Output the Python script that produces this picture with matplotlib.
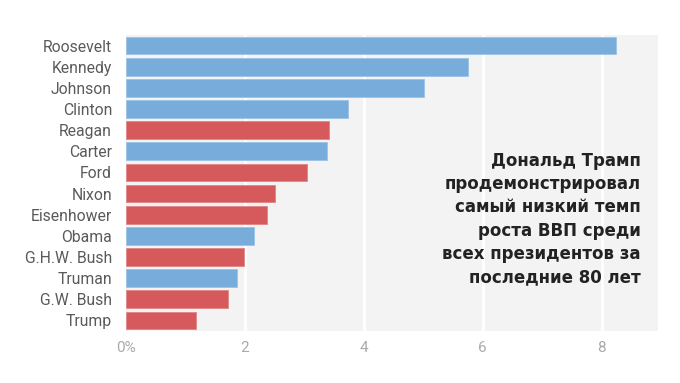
import matplotlib
matplotlib.use("Agg")
import matplotlib.pyplot as plt

presidents = ["Roosevelt", "Kennedy", "Johnson", "Clinton", "Reagan", "Carter", "Ford",
              "Nixon", "Eisenhower", "Obama", "G.H.W. Bush", "Truman", "G.W. Bush", "Trump"]
gdp_growth = [8.25, 5.76, 5.01, 3.74, 3.42, 3.38, 3.05, 2.51, 2.37, 2.16, 1.99, 1.86, 1.72, 1.17]
party = ["D", "D", "D", "D", "R", "D", "R", "R", "R", "D", "R", "D", "R", "R"]
x_ticks = [0, 2, 4, 6, 8]
x_tick_labels = ["0%", "2", "4", "6", "8"]
note = ("Дональд Трамп\nпродемонстрировал\nсамый низкий темп\n"
        "роста ВВП среди\nвсех президентов за\nпоследние 80 лет")

colors = {"D": "#77acdb", "R": "#d65a5b"}
edge = {"D": "#9cc3e6", "R": "#e08586"}

fig = plt.figure(figsize=(6.8, 3.83), dpi=100)
ax = fig.add_axes([126/680, 1 - 331/383, (658 - 126)/680, (331 - 35)/383])
ax.set_facecolor("#f3f3f3")

ypos = list(range(len(presidents)))
ax.barh(ypos, gdp_growth, height=0.84,
        color=[colors[p] for p in party],
        edgecolor=[edge[p] for p in party], linewidth=0.6, zorder=3)

for t in x_ticks[1:]:
    ax.axvline(t, color="white", linewidth=2, zorder=1)

ax.set_xlim(0, 8.95)
ax.set_ylim(len(presidents) - 0.5, -0.5)
ax.set_yticks(ypos)
ax.set_yticklabels(presidents, fontsize=11.3, color="#5a5a5a", family="Roboto")
ax.set_xticks(x_ticks)
ax.set_xticklabels(x_tick_labels, fontsize=11, color="#aaaaaa", family="Roboto")
ax.tick_params(axis="y", length=0, pad=10)
ax.tick_params(axis="x", length=0, pad=7)
for s in ax.spines.values():
    s.set_visible(False)

fig.text(641/680, 1 - 219/383, note, ha="right", va="center", multialignment="right",
         fontsize=12, fontweight="bold", color="#222222", family="DejaVu Sans",
         linespacing=1.38)

fig.savefig("out.png", dpi=100, facecolor="white")
